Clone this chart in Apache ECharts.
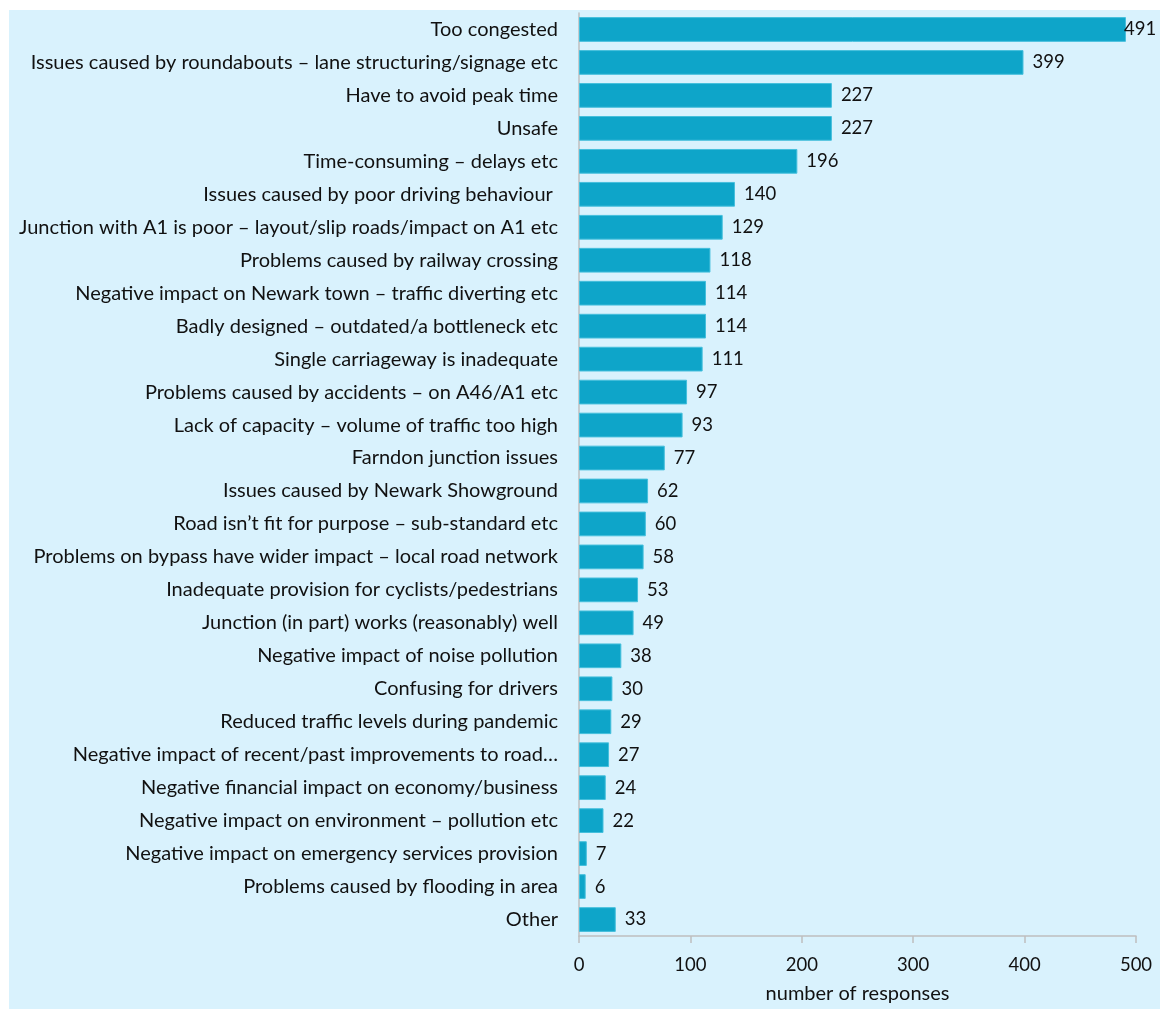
<!DOCTYPE html>
<html>
<head>
<meta charset="utf-8">
<script src="https://cdn.jsdelivr.net/npm/echarts@6/dist/echarts.min.js"></script>
<style>
  html, body { margin: 0; padding: 0; background: #ffffff; }
  #chart { position: absolute; left: 9px; top: 10px; width: 1151px; height: 999px; }
</style>
</head>
<body>
<div id="chart"></div>
<script>
// Reasons given for the current state of the junction (number of responses)
const categories = [
  'Too congested',
  'Issues caused by roundabouts \u2013 lane structuring/signage etc',
  'Have to avoid peak time',
  'Unsafe',
  'Time-consuming \u2013 delays etc',
  'Issues caused by poor driving behaviour ',
  'Junction with A1 is poor \u2013 layout/slip roads/impact on A1 etc',
  'Problems caused by railway crossing',
  'Negative impact on Newark town \u2013 traffic diverting etc',
  'Badly designed \u2013 outdated/a bottleneck etc',
  'Single carriageway is inadequate',
  'Problems caused by accidents \u2013 on A46/A1 etc',
  'Lack of capacity \u2013 volume of traffic too high',
  'Farndon junction issues',
  'Issues caused by Newark Showground',
  'Road isn\u2019t fit for purpose \u2013 sub-standard etc',
  'Problems on bypass have wider impact \u2013 local road network',
  'Inadequate provision for cyclists/pedestrians',
  'Junction (in part) works (reasonably) well',
  'Negative impact of noise pollution',
  'Confusing for drivers',
  'Reduced traffic levels during pandemic',
  'Negative impact of recent/past improvements to road\u2026',
  'Negative financial impact on economy/business',
  'Negative impact on environment \u2013 pollution etc',
  'Negative impact on emergency services provision',
  'Problems caused by flooding in area',
  'Other'
];

const responses = [491, 399, 227, 227, 196, 140, 129, 118, 114, 114, 111, 97, 93, 77,
  62, 60, 58, 53, 49, 38, 30, 29, 27, 24, 22, 7, 6, 33];

const xTicks = { min: 0, max: 500, interval: 100 };
const axisTitle = 'number of responses';

const FONT = 'Lato, "Open Sans", sans-serif';
const TEXT = '#111111';

const chart = echarts.init(document.getElementById('chart'), null, { renderer: 'canvas' });

const barData = responses.map((v) => {
  // the longest bar sits against the plot edge, so its label hugs the bar end
  if (v >= xTicks.max * 0.95) {
    return { value: v, label: { distance: -2 } };
  }
  return v;
});

chart.setOption({
  backgroundColor: '#d9f2fd',
  animation: false,
  grid: { left: 570, right: 24, top: 3, bottom: 68, containLabel: false },
  xAxis: {
    type: 'value',
    min: xTicks.min,
    max: xTicks.max,
    interval: xTicks.interval,
    name: axisTitle,
    nameLocation: 'middle',
    nameGap: 48,
    nameTextStyle: { fontFamily: FONT, fontSize: 20, color: TEXT },
    axisLine: { show: true, lineStyle: { color: '#bfbfbf', width: 1.5 } },
    axisTick: { show: true, length: 7, lineStyle: { color: '#bfbfbf', width: 1.5 } },
    axisLabel: { fontFamily: FONT, fontSize: 18.5, color: TEXT, margin: 20 },
    splitLine: { show: false }
  },
  yAxis: {
    type: 'category',
    data: categories,
    inverse: true,
    axisLine: { show: true, lineStyle: { color: '#bfbfbf', width: 1.5 } },
    axisTick: { show: false },
    axisLabel: { fontFamily: FONT, fontSize: 20, color: TEXT, margin: 21 }
  },
  series: [{
    type: 'bar',
    data: barData,
    barCategoryGap: '25%',
    itemStyle: { color: '#0ea5c9', borderColor: '#45bfdc', borderWidth: 1 },
    label: {
      show: true,
      position: 'right',
      distance: 9,
      fontFamily: FONT,
      fontSize: 18.5,
      color: TEXT
    }
  }]
});
</script>
</body>
</html>
